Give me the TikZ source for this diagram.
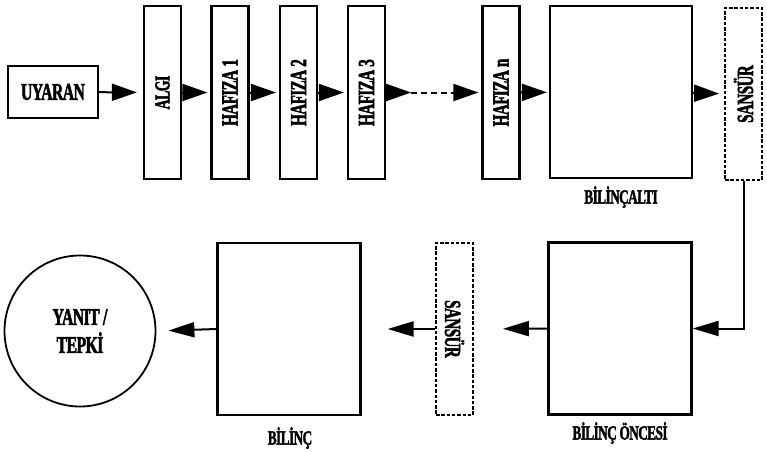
\documentclass[tikz,border=0pt]{standalone}
\usepackage{fontspec}
\newfontfamily\lab{Liberation Serif}[UprightFont=* Bold,FakeBold=2.5,LetterSpace=-4]
\newcommand{\cnd}[1]{\scalebox{0.66}[1]{#1}}
\usetikzlibrary{arrows.meta}
\begin{document}
\begin{tikzpicture}[x=1pt,y=-1pt,
  box/.style={draw,line width=2.2pt,inner sep=0pt,rectangle},
  strip/.style={box,minimum width=37pt,minimum height=173pt,font=\lab\fontsize{23}{24}\selectfont},
  dstrip/.style={draw,line width=1.8pt,dash pattern=on 3.5pt off 1.8pt,inner sep=0pt,minimum width=37pt,minimum height=172pt,font=\lab\fontsize{23}{24}\selectfont},
  bigbox/.style={box,minimum width=143pt,minimum height=172pt},
  lbl/.style={font=\lab\fontsize{20}{21}\selectfont,inner sep=0pt},
  arr/.style={line width=2pt,-{Triangle[length=25pt,width=17pt]}},
  arrs/.style={line width=2pt,-{Triangle[length=26pt,width=15pt]}}
]
\useasboundingbox (0,0) rectangle (767,451);
% top row
\node[box,minimum width=90pt,minimum height=52pt,font=\lab\fontsize{24}{25}\selectfont] (uyaran) at (53,92) {\cnd{UYARAN}};
\node[strip,font=\lab\fontsize{21}{22}\selectfont] (algi) at (162.5,92.5) {\rotatebox{90}{\cnd{ALGI}}};
\node[strip] (h1) at (230,92.5) {\rotatebox{90}{\cnd{HAFIZA 1}}};
\node[strip] (h2) at (298.5,92.5) {\rotatebox{90}{\cnd{HAFIZA 2}}};
\node[strip] (h3) at (366.5,92.5) {\rotatebox{90}{\cnd{HAFIZA 3}}};
\node[strip] (hn) at (501,92.5) {\rotatebox{90}{\cnd{HAFIZA n}}};
\node[bigbox,minimum width=142pt] (alti) at (621,92) {};
\node[lbl] (altil) at (621,197) {\cnd{BİLİNÇALTI}};
\node[dstrip] (s1) at (743.5,94) {\rotatebox{90}{\cnd{SANSÜR}}};
% bottom row
\node[bigbox] (onc) at (620,328.5) {};
\node[lbl] (oncl) at (620,433) {\cnd{BİLİNÇ ÖNCESİ}};
\node[dstrip] (s2) at (454.5,329) {\rotatebox{-90}{\cnd{SANSÜR}}};
\node[bigbox] (bil) at (289,329) {};
\node[lbl] (bill) at (290,438) {\cnd{BİLİNÇ}};
\node[circle,draw,line width=1.8pt,minimum size=151pt,inner sep=0pt,align=center,font=\lab\fontsize{24}{28}\selectfont] (yanit) at (80,331) {\cnd{YANIT /}\\\cnd{TEPKİ}};
% connectors
\draw[arr,shorten >=6pt] (uyaran) -- (algi);
\draw[arr,shorten >=3pt] (algi) -- (h1);
\draw[arr,shorten >=3pt] (h1) -- (h2);
\draw[arr,shorten >=3pt] (h2) -- (h3);
\draw[arr] (h3.east) -- ++(25,0) coordinate (d1);
\draw[arr,dash pattern=on 6pt off 4pt,shorten >=3pt] (d1) -- (hn.west);
\draw[arr,shorten >=2pt] (hn) -- (alti);
\draw[arr,shorten >=5pt] (alti) -- (s1);
\draw[arrs] (s1.south) |- (onc.east);
\draw[arrs,shorten >=29pt] (onc.west) -- (s2.east);
\draw[arrs,shorten >=26pt] (s2.west) -- (bil.east);
\draw[arrs,shorten >=12pt] (bil.west) -- (yanit.east);
\end{tikzpicture}
\end{document}
